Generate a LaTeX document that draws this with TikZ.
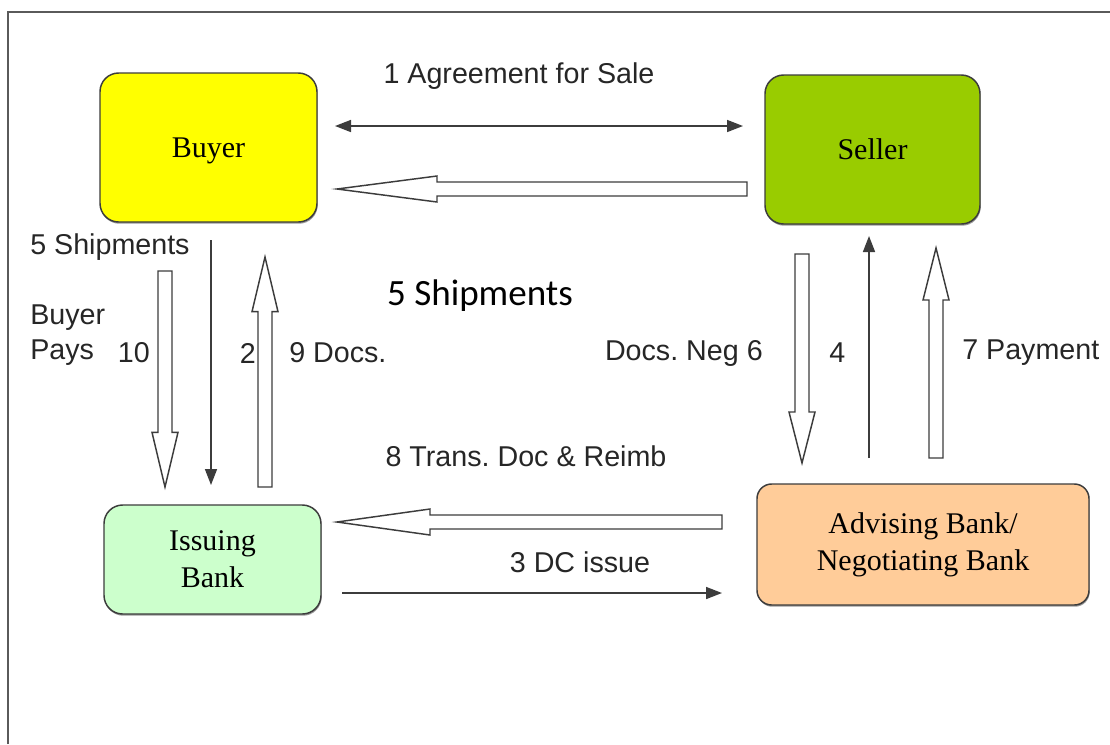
\documentclass[tikz,border=0pt]{standalone}
\usepackage{fontspec}
\setmainfont{Liberation Serif}
\newfontfamily\arialfont{Liberation Sans}
\newfontfamily\calibrifont{Carlito}
\usepackage{tikz}
\usetikzlibrary{arrows.meta,positioning,calc,shadows}
\frenchspacing
\definecolor{cLine}{HTML}{3c3c3c}
\definecolor{cFrame}{HTML}{5a5a5a}
\definecolor{cBuyer}{HTML}{ffff00}
\definecolor{cSeller}{HTML}{99cc00}
\definecolor{cIssue}{HTML}{ccffcc}
\definecolor{cAdvise}{HTML}{ffcc99}
\tikzset{
  party/.style={rounded corners=14pt,draw=cLine,line width=1.1pt,
               align=center,font=\fontsize{22.5}{27.5}\selectfont,
               drop shadow={shadow xshift=.5pt,shadow yshift=-1.3pt,
                            fill=black!40,opacity=1}},
  lbl/.style={inner sep=0pt,text=black!85,
              font=\arialfont\fontsize{21.5}{26}\selectfont},
  thinarrow/.style={-{Triangle[length=12pt,width=9pt]},line width=1.2pt,cLine},
  bij/.style={{Triangle[length=12pt,width=9pt]}-{Triangle[length=12pt,width=9pt]},
              line width=1.2pt,cLine},
  blk/.style={draw=cLine,fill=white,line width=1.1pt,line join=miter},
}
% hollow block arrow from #2 to #3, head length #1
\newcommand{\blockarrow}[3][41pt]{%
  \coordinate (hb) at ($(#3)!#1!(#2)$);
  \draw[blk] ($(#2)!5.25pt!90:(#3)$) -- ($(hb)!5.25pt!90:(#3)$)
    -- ($(hb)!9.75pt!90:(#3)$) -- (#3) -- ($(hb)!9.75pt!-90:(#3)$)
    -- ($(hb)!5.25pt!-90:(#3)$) -- ($(#2)!5.25pt!-90:(#3)$) -- cycle;}

\begin{document}
\begin{tikzpicture}[x=.75pt,y=-.75pt]
  \useasboundingbox (0,0) rectangle (1110,744);
  % outer frame, cut off at right and bottom
  \draw[cFrame,line width=1.5pt] (8,744) -- (8,12) -- (1110,12);

  % parties
  \node[party,fill=cBuyer,minimum width=162.75pt,minimum height=111.75pt,
        text depth=0pt]
    (buyer) at (208.5,147.5) {Buyer};
  \node[party,fill=cSeller,minimum width=161.25pt,minimum height=111.75pt]
    (seller) at (872.5,149.5) {Seller};
  \node[party,fill=cIssue,minimum width=162.75pt,minimum height=81.75pt]
    (issuing) at (212.5,559.5) {Issuing\\Bank};
  \node[party,fill=cAdvise,minimum width=249pt,minimum height=90.75pt,
        rounded corners=11pt]
    (advising) at (923,544.5) {Advising Bank/\\Negotiating Bank};

  % arrow ends
  \coordinate (agreeL) at (335,126);  \coordinate (agreeR) at (743,126);
  \coordinate (goodsS) at (747,189);  \coordinate (goodsB) at (337,189);
  \coordinate (shipT)  at (211,240);  \coordinate (shipB)  at (211,485);
  \coordinate (paysT)  at (165,271);  \coordinate (paysB)  at (165,487);
  \coordinate (docsB)  at (265,487);  \coordinate (docsT)  at (265,257);
  \coordinate (negT)   at (802,254);  \coordinate (negB)   at (802,463);
  \coordinate (advB)   at (869,458);  \coordinate (advT)   at (869,236);
  \coordinate (payB)   at (936,458);  \coordinate (payT)   at (936,248);
  \coordinate (reimbA) at (722,522);  \coordinate (reimbI) at (337,522);
  \coordinate (dcI)    at (342,593);  \coordinate (dcA)    at (722,593);

  \draw[bij] (agreeL) -- (agreeR);
  \blockarrow[75pt]{goodsS}{goodsB}
  \draw[thinarrow] (shipT) -- (shipB);
  \blockarrow{paysT}{paysB}
  \blockarrow{docsB}{docsT}
  \blockarrow[38.25pt]{negT}{negB}
  \draw[thinarrow] (advB) -- (advT);
  \blockarrow[39pt]{payB}{payT}
  \blockarrow[69.75pt]{reimbA}{reimbI}
  \draw[thinarrow] (dcI) -- (dcA);

  % labels
  \node[lbl] (tagree) at (519,76) {1 Agreement for Sale};
  \node[lbl,anchor=west] (tship) at (30,247) {5 Shipments};
  \node[lbl,anchor=west,align=left,font=\arialfont\fontsize{21.5}{26.25}\selectfont]
    (tpays) at (30,335.5) {Buyer\\Pays};
  \node[lbl,anchor=east] (tten) at (150,353) {10};
  \node[lbl,anchor=east] (ttwo) at (256,353) {2};
  \node[lbl,anchor=west] (tdocs) at (289,353) {9 Docs.};
  \node[inner sep=0pt,font=\calibrifont\fontsize{27.8}{32}\selectfont]
    (tgoods) at (480,296) {5 Shipments};
  \node[lbl,anchor=east] (tneg) at (763,353) {Docs. Neg 6};
  \node[lbl,anchor=west] (tfour) at (829,353) {4};
  \node[lbl,anchor=west] (tpay) at (962,353) {7 Payment};
  \node[lbl] (treimb) at (526,456) {8 Trans. Doc \& Reimb};
  \node[lbl] (tdc) at (580,562) {3 DC issue};
\end{tikzpicture}
\end{document}
